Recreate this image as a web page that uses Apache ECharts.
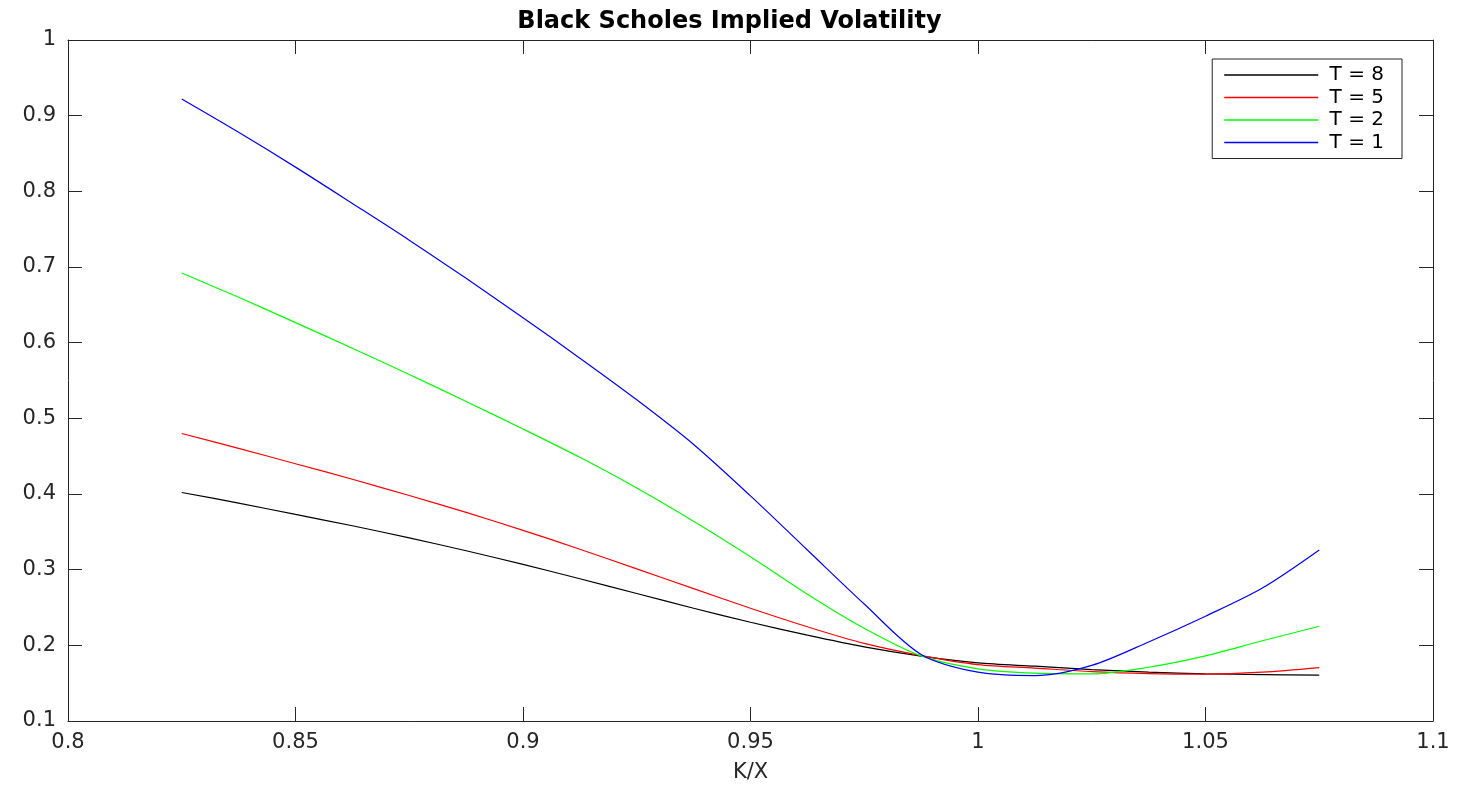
<!DOCTYPE html>
<html>
<head>
<meta charset="utf-8">
<script src="https://cdn.jsdelivr.net/npm/echarts@6/dist/echarts.min.js"></script>
<style>
html,body{margin:0;padding:0;background:#fff;}
#chart{width:1459px;height:788px;}
</style>
</head>
<body>
<div id="chart"></div>
<script>
const kx = [0.825, 0.8375, 0.85, 0.8625, 0.875, 0.8875, 0.9, 0.9125, 0.925, 0.9375, 0.95, 0.9625, 0.975, 0.9875, 1.0, 1.0125, 1.025, 1.0375, 1.05, 1.0625, 1.075];
const T8 = [0.402, 0.388, 0.373, 0.358, 0.342, 0.325, 0.307, 0.288, 0.2685, 0.249, 0.2305, 0.2135, 0.198, 0.1858, 0.1768, 0.1724, 0.168, 0.1645, 0.1623, 0.1614, 0.1605];
const T5 = [0.480, 0.4604, 0.440, 0.4195, 0.398, 0.3757, 0.352, 0.327, 0.301, 0.275, 0.249, 0.2245, 0.2025, 0.1865, 0.1746, 0.170, 0.1653, 0.1627, 0.1619, 0.1645, 0.1706];
const T2 = [0.692, 0.660, 0.6265, 0.5926, 0.558, 0.5223, 0.486, 0.4485, 0.408, 0.364, 0.317, 0.2675, 0.2225, 0.186, 0.169, 0.1632, 0.1623, 0.171, 0.186, 0.206, 0.2252];
const T1 = [0.922, 0.878, 0.832, 0.784, 0.7355, 0.685, 0.633, 0.5795, 0.5245, 0.4655, 0.3975, 0.326, 0.2546, 0.188, 0.1645, 0.160, 0.1735, 0.2045, 0.2385, 0.2757, 0.326];
const seriesNames = ['T = 8', 'T = 5', 'T = 2', 'T = 1'];
const seriesValues = [T8, T5, T2, T1];
const seriesColors = ['#000000', '#ff0000', '#00ff00', '#0000ff'];
const title = 'Black Scholes Implied Volatility';
const xName = 'K/X';

const axisColor = '#262626';
const font = 'DejaVu Sans';

const chart = echarts.init(document.getElementById('chart'));
const baseAxis = {
  type: 'value',
  splitLine: {show: false},
  axisLine: {show: true, onZero: false, lineStyle: {color: axisColor, width: 1}},
  axisTick: {show: true, inside: true, length: 14, lineStyle: {color: axisColor}},
};
chart.setOption({
  animation: false,
  backgroundColor: '#ffffff',
  title: {
    text: title, left: 'center', top: 5,
    textStyle: {fontFamily: font, fontSize: 24, fontWeight: 'bold', color: '#000'}
  },
  legend: {
    orient: 'vertical', right: 57, top: 59,
    data: seriesNames,
    formatter: (name) => ' ' + name,
    icon: 'rect',
    itemWidth: 94, itemHeight: 1.5, itemGap: 2.5,
    padding: [6, 18, 6, 12],
    borderColor: axisColor, borderWidth: 1,
    textStyle: {fontFamily: font, fontSize: 20, color: '#000', lineHeight: 14}
  },
  grid: {left: 68, right: 26, top: 40, bottom: 66},
  xAxis: [
    Object.assign({}, baseAxis, {
      position: 'bottom', min: 0.8, max: 1.1, interval: 0.05,
      name: xName, nameLocation: 'middle', nameGap: 41,
      nameTextStyle: {fontFamily: font, fontSize: 21, color: axisColor},
      axisLabel: {fontFamily: font, fontSize: 21, color: axisColor, margin: 11}
    }),
    Object.assign({}, baseAxis, {
      position: 'top', min: 0.8, max: 1.1, interval: 0.05,
      axisLabel: {show: false}
    })
  ],
  yAxis: [
    Object.assign({}, baseAxis, {
      position: 'left', min: 0.1, max: 1, interval: 0.1,
      axisLabel: {fontFamily: font, fontSize: 21, color: axisColor, margin: 12}
    }),
    Object.assign({}, baseAxis, {
      position: 'right', min: 0.1, max: 1, interval: 0.1,
      axisLabel: {show: false}
    })
  ],
  series: seriesNames.map((n, i) => ({
    name: n,
    type: 'line',
    xAxisIndex: 0, yAxisIndex: 0,
    data: kx.map((x, j) => [x, seriesValues[i][j]]),
    showSymbol: false, symbol: 'none',
    smooth: 0.3,
    lineStyle: {color: seriesColors[i], width: 1.2},
    itemStyle: {color: seriesColors[i]}
  }))
});
</script>
</body>
</html>
